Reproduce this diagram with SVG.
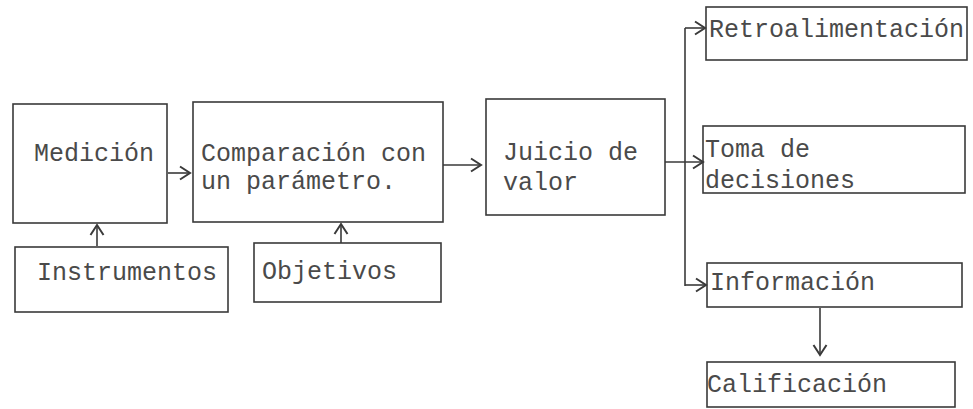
<svg xmlns="http://www.w3.org/2000/svg" width="973" height="409" viewBox="0 0 973 409">
<defs>
<style>
.box{fill:none;stroke:#3a3a3a;stroke-width:1.6}
.t{font-family:"Liberation Mono","Courier New",monospace;font-size:25px;fill:#4a4a4a}
.c{fill:none;stroke:#3a3a3a;stroke-width:1.6}
</style>
<marker id="ah" viewBox="0 0 16 16" refX="14" refY="8" markerWidth="16" markerHeight="16" markerUnits="userSpaceOnUse" orient="auto">
<polyline points="4,1.5 14,8 4,14.5" fill="none" stroke="#3a3a3a" stroke-width="2"/>
</marker>
</defs>
<rect width="973" height="409" fill="#ffffff"/>
<g id="connectors">
<line class="c" x1="168" y1="173" x2="190" y2="173" marker-end="url(#ah)"/>
<line class="c" x1="443" y1="165" x2="481" y2="165" marker-end="url(#ah)"/>
<line class="c" x1="665" y1="162" x2="703" y2="162" marker-end="url(#ah)"/>
<line class="c" x1="685" y1="28" x2="685" y2="286"/>
<line class="c" x1="685" y1="28" x2="705" y2="28" marker-end="url(#ah)"/>
<line class="c" x1="685" y1="285" x2="706" y2="285" marker-end="url(#ah)"/>
<line class="c" x1="97" y1="246" x2="97" y2="225" marker-end="url(#ah)"/>
<line class="c" x1="341" y1="243" x2="341" y2="224" marker-end="url(#ah)"/>
<line class="c" x1="820" y1="308" x2="820" y2="355" marker-end="url(#ah)"/>
</g>
<g id="medicion">
<rect class="box" x="13" y="104" width="154" height="119"/>
<text class="t" x="34" y="161">Medición</text>
</g>
<g id="comparacion">
<rect class="box" x="193" y="102" width="250" height="120"/>
<text class="t" x="201" y="161">Comparación con</text>
<text class="t" x="201" y="189">un parámetro.</text>
</g>
<g id="instrumentos">
<rect class="box" x="15" y="247" width="213" height="65"/>
<text class="t" x="37" y="280">Instrumentos</text>
</g>
<g id="objetivos">
<rect class="box" x="254" y="243" width="187" height="59"/>
<text class="t" x="262" y="279">Objetivos</text>
</g>
<g id="juicio">
<rect class="box" x="486" y="99" width="179" height="116"/>
<text class="t" x="503" y="160">Juicio de</text>
<text class="t" x="503" y="190">valor</text>
</g>
<g id="retroalimentacion">
<rect class="box" x="706" y="7" width="261" height="53"/>
<text class="t" x="709" y="37">Retroalimentación</text>
</g>
<g id="toma">
<rect class="box" x="703" y="126" width="262" height="67"/>
<text class="t" x="705" y="157">Toma de</text>
<text class="t" x="705" y="188">decisiones</text>
</g>
<g id="informacion">
<rect class="box" x="707" y="263" width="255" height="44"/>
<text class="t" x="710" y="290">Información</text>
</g>
<g id="calificacion">
<rect class="box" x="707" y="362" width="248" height="45"/>
<text class="t" x="707" y="392">Calificación</text>
</g>
</svg>
